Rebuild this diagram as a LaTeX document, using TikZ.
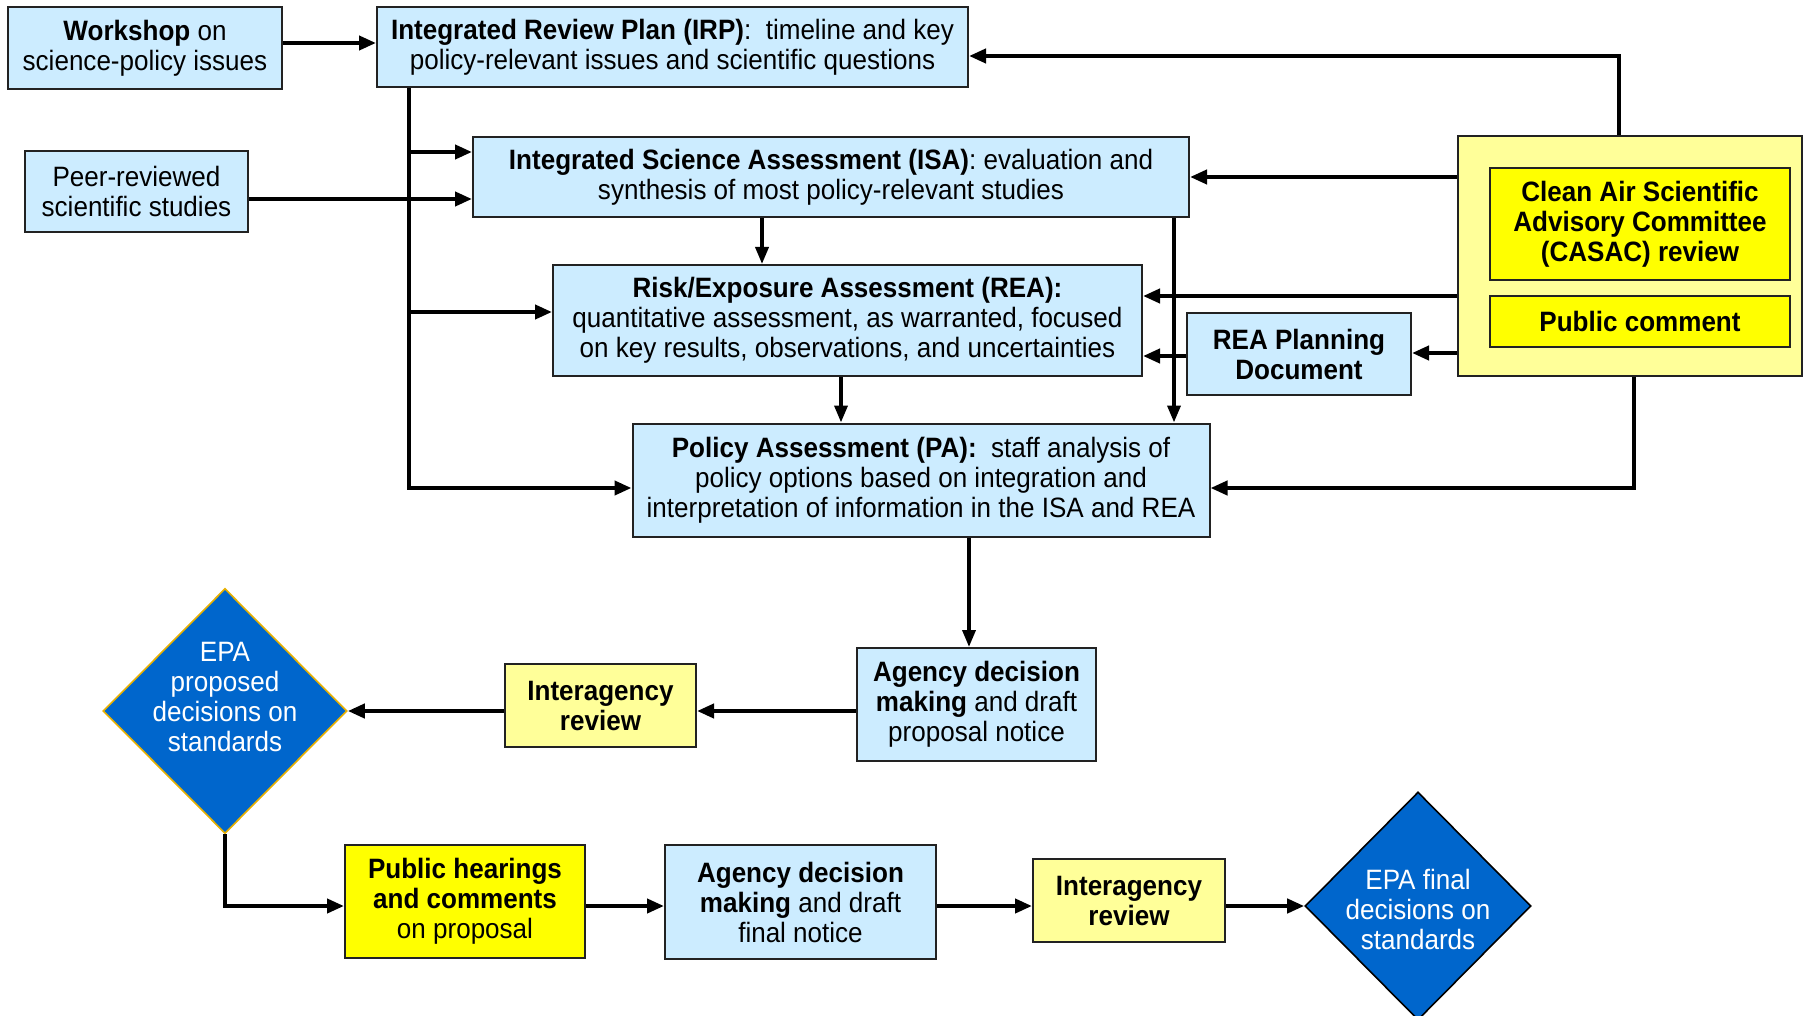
\documentclass[tikz,border=0pt]{standalone}
\usepackage{fontspec}
\setmainfont{Liberation Sans}[FakeStretch=0.93]
\usetikzlibrary{arrows.meta,shapes.geometric}
\definecolor{lblue}{HTML}{CCECFF}
\definecolor{lyellow}{HTML}{FFFF99}
\definecolor{byellow}{HTML}{FFFF00}
\definecolor{dblue}{HTML}{0066CC}
\definecolor{goldline}{HTML}{E8B000}
\definecolor{boxline}{HTML}{222222}
\begin{document}
\begin{tikzpicture}[x=0.5pt,y=-0.5pt,
  txt/.style={font=\fontsize{14}{15}\selectfont, align=center, inner sep=0pt},
  box/.style={txt, draw=boxline, line width=1pt},
  bluebox/.style={box, fill=lblue},
  lyelbox/.style={box, fill=lyellow},
  yelbox/.style={box, fill=byellow},
  dshape/.style={diamond, fill=dblue, inner sep=0pt, line width=0.8pt},
  dtext/.style={txt, text=white},
  harrow/.style={line width=2pt, -{Triangle[length=8.5pt,width=7pt]}},
  varrow/.style={line width=1.8pt, -{Triangle[length=8.5pt,width=6.5pt]}},
  conn/.style={line width=2pt}
]
\clip (0,0) rectangle (1803,1016);
\fill[white] (0,0) rectangle (1803,1016);

% top boxes
\node[bluebox, minimum width=137pt, minimum height=41pt] (workshop) at (145,48)
  {\textbf{Workshop} on\\science-policy issues};
\node[bluebox, minimum width=295.5pt, minimum height=40pt] (irp) at (672.5,47)
  {\textbf{Integrated Review Plan (IRP)}:~~timeline and key\\policy-relevant issues and scientific questions};
\node[bluebox, minimum width=111.5pt, minimum height=40.5pt] (peer) at (136.5,191.5)
  {Peer-reviewed\\scientific studies};
\node[bluebox, minimum width=358pt, minimum height=40pt] (isa) at (831,177)
  {\textbf{Integrated Science Assessment (ISA)}: evaluation and\\synthesis of most policy-relevant studies};
\node[bluebox, minimum width=294.5pt, minimum height=55.5pt] (rea) at (847.5,320.5)
  {\textbf{Risk/Exposure Assessment (REA):}\\quantitative assessment, as warranted, focused\\on key results, observations, and uncertainties};
\node[bluebox, minimum width=112pt, minimum height=41pt] (reaplan) at (1299,354)
  {\textbf{REA Planning}\\\textbf{Document}};
\node[lyelbox, minimum width=172pt, minimum height=120pt] (casacout) at (1630,256) {};
\node[yelbox, minimum width=150pt, minimum height=56pt] (casac) at (1640,224)
  {\textbf{Clean Air Scientific}\\\textbf{Advisory Committee}\\\textbf{(CASAC) review}};
\node[yelbox, minimum width=150pt, minimum height=25.5pt] (pubc) at (1640,321.5)
  {\textbf{Public comment}};
\node[bluebox, minimum width=288.5pt, minimum height=56.5pt] (pa) at (921,480)
  {\textbf{Policy Assessment (PA):}~~staff analysis of\\policy options based on integration and\\interpretation of information in the ISA and REA};

% middle row
\node[bluebox, minimum width=119.5pt, minimum height=56.5pt] (agency1) at (976.5,704.5)
  {\textbf{Agency decision}\\\textbf{making} and draft\\proposal notice};
\node[lyelbox, minimum width=95.5pt, minimum height=41.5pt] (inter1) at (600.5,705.5)
  {\textbf{Interagency}\\\textbf{review}};
\node[dshape, draw=goldline, minimum width=122pt, minimum height=122.5pt] (propd) at (225,711) {};
\node[dtext] (propdtxt) at (225,697) {EPA\\proposed\\decisions on\\standards};

% bottom row
\node[yelbox, minimum width=120pt, minimum height=56.5pt] (pubhear) at (465,901.5)
  {\textbf{Public hearings}\\\textbf{and comments}\\on proposal};
\node[bluebox, minimum width=135.5pt, minimum height=57pt] (agency2) at (800.5,902)
  {\textbf{Agency decision}\\\textbf{making} and draft\\final notice};
\node[lyelbox, minimum width=96pt, minimum height=41.5pt] (inter2) at (1129,900.5)
  {\textbf{Interagency}\\\textbf{review}};
\node[dshape, draw=black, minimum width=113pt, minimum height=114pt] (finald) at (1418,906) {};
\node[dtext] (finaldtxt) at (1418,909) {EPA final\\decisions on\\standards};

% connectors
\draw[harrow] (workshop.east |- 0,43) -- (irp.west |- 0,43);
\coordinate (trunktop) at (irp.south -| 409,0);
\coordinate (tisa) at (409,152);
\coordinate (trea) at (409,312);
\draw[harrow] (trunktop) |- (pa.west |- 0,488);
\draw[harrow] (tisa) -- (isa.west |- 0,152);
\draw[harrow] (trea) -- (rea.west |- 0,312);
\draw[harrow] (peer.east |- 0,199) -- (isa.west |- 0,199);

\draw[varrow] (isa.south -| 762,0) -- (rea.north -| 762,0);
\draw[varrow] (isa.south -| 1174,0) -- (pa.north -| 1174,0);
\draw[varrow] (rea.south -| 841,0) -- (pa.north -| 841,0);

\draw[harrow] (casacout.north -| 1619,0) |- (irp.east |- 0,56);
\draw[harrow] (casacout.west |- 0,177) -- (isa.east |- 0,177);
\draw[harrow] (casacout.west |- 0,296) -- (rea.east |- 0,296);
\draw[harrow] (casacout.west |- 0,353) -- (reaplan.east |- 0,353);
\draw[harrow] (reaplan.west |- 0,356) -- (rea.east |- 0,356);
\draw[harrow] (casacout.south -| 1634,0) |- (pa.east |- 0,488);

\draw[varrow] (pa.south -| 969,0) -- (agency1.north -| 969,0);
\draw[harrow] (agency1.west |- 0,711) -- (inter1.east |- 0,711);
\draw[harrow] (inter1.west |- 0,711) -- (propd.east);
\draw[harrow] (propd.south) |- (pubhear.west |- 0,906);
\draw[harrow] (pubhear.east |- 0,906) -- (agency2.west |- 0,906);
\draw[harrow] (agency2.east |- 0,906) -- (inter2.west |- 0,906);
\draw[harrow] (inter2.east |- 0,906) -- (finald.west);
\end{tikzpicture}
\end{document}
